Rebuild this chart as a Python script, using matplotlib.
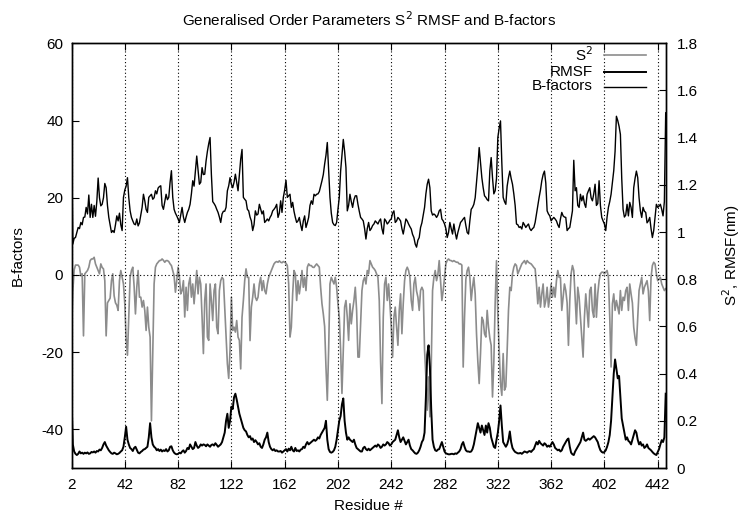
import numpy as np
import matplotlib
matplotlib.use("Agg")
import matplotlib.pyplot as plt
from matplotlib.lines import Line2D

plt.rcParams['font.family'] = ['Liberation Sans', 'DejaVu Sans']
plt.rcParams['axes.unicode_minus'] = False

# ---------------- data (residue 2 .. 448) ----------------
bfactors = [
    40, 8, 9.5, 9.7, 11, 12.3, 12, 13.6, 13, 14.9,
    15, 17.5, 15.8, 20.7, 14.9, 18.3, 14.9, 18.0, 15.2, 19,
    25.1, 20, 17.9, 18.3, 20, 23.7, 22.6, 18, 14.9, 13,
    11.0, 11.5, 11.0, 13, 15.3, 14, 16, 13, 11.5, 20.1,
    22, 23, 25.2, 20, 16.6, 14.9, 14, 13.2, 13, 14.5,
    12.7, 13.5, 15.5, 17.5, 20.9, 19.2, 17, 16.2, 20.1, 20.5,
    20.9, 19.6, 20, 21.8, 21, 22.5, 22.9, 23.1, 18, 17.0,
    19, 20.9, 19.5, 20.1, 24, 27, 20.1, 17, 16, 15.3,
    14.5, 13.6, 15.5, 17.5, 15, 13.6, 15, 16.2, 17, 18.3,
    21, 24.4, 23, 26.9, 30.8, 27, 23.5, 24, 27.8, 26,
    26.1, 29.5, 32, 34, 35.6, 26, 19, 18.5, 17.9, 17,
    16.2, 15, 13.6, 15.8, 16.5, 16.5, 17.5, 21.8, 23.1, 25.2,
    23.5, 22.6, 24, 26.1, 24, 21.8, 26, 30, 32.5, 20.1,
    19.6, 19.2, 17, 16.6, 15, 14.0, 11.5, 13, 16.6, 15.5,
    15.8, 18.3, 17, 15.8, 16.6, 13.6, 14, 14.5, 14.0, 14.9,
    15.5, 16.6, 17, 17.5, 18.3, 14.9, 16, 19.2, 16.2, 20.1,
    22, 24.5, 20.1, 20.5, 20.9, 17.5, 18.8, 16.5, 14.9, 13.6,
    14, 14.9, 13, 11.5, 14, 15.3, 12.3, 13.5, 14.9, 18,
    19.2, 18.3, 20.9, 20.5, 20.9, 21, 21.6, 23, 24.4, 26,
    28.7, 31, 34.3, 27, 20.1, 16, 13.6, 13, 12.8, 13.6,
    17, 20.1, 26.9, 31, 35.1, 32, 27.8, 16.6, 18, 20.9,
    19, 17.5, 19.5, 20.5, 20.5, 18.3, 16.5, 14.9, 14.5, 14,
    12, 9.3, 12, 13.6, 11.5, 12, 12.8, 13.2, 14, 13.6,
    13.2, 14, 14.5, 12, 10.6, 14.5, 14, 13.2, 13.6, 14.2,
    14.5, 16, 16.6, 13.6, 14, 14.9, 14.5, 14, 12, 10.6,
    12.5, 14.5, 14, 13.2, 12.5, 11.9, 10.5, 9.7, 8, 7.2,
    9, 9.7, 12.3, 13.5, 15.5, 17.5, 21, 23.5, 24.8, 22.6,
    16.6, 15.5, 15.8, 15.5, 14.9, 15.5, 16.6, 17.0, 14.5, 14.0,
    13.2, 12, 9.7, 11, 13.6, 12, 10.6, 13.2, 11, 9.3,
    11, 12.3, 13.6, 14, 14.5, 14.9, 12.8, 11, 10.6, 14,
    17.0, 17.5, 18.3, 20, 23.9, 28, 33, 29, 25.2, 22.6,
    20.5, 20.1, 19.5, 19.2, 27, 30.4, 25.2, 21, 21.8, 25,
    35.6, 38, 39.9, 29, 20.1, 19, 18.3, 23, 25.2, 26.9,
    25, 23.5, 21, 18, 13.2, 13, 12.3, 12.5, 11.9, 13.6,
    13, 12.3, 12.8, 13.2, 12, 11.5, 12, 12.3, 13.6, 15.8,
    18, 20.1, 22, 24.4, 26, 26.9, 23.8, 16.6, 15.8, 15.3,
    14.0, 14.5, 14.9, 14.5, 14.0, 13, 12.3, 14.5, 16.2, 15.3,
    15, 14.9, 11.5, 12, 12.3, 14.5, 16.6, 29.7, 21.8, 22.6,
    18, 17.5, 20.9, 19.2, 20.5, 18.5, 17.5, 20.9, 21.8, 22.6,
    20, 19.2, 21, 23.5, 18, 18.5, 24.4, 18, 14.9, 14,
    13.2, 11.5, 15, 17.5, 19, 20.9, 24, 27, 32, 41.1,
    40, 38.5, 36.4, 25, 17, 15, 15.5, 18.3, 15.3, 18.8,
    17.5, 14.9, 22.6, 25, 26.9, 25.2, 20, 16.6, 14.9, 17.5,
    16.5, 16.2, 13.5, 14, 14.9, 12, 9.7, 11.5, 14.9, 18.3,
    17.5, 17.8, 18.3, 17, 15.3, 19, 42,
]

rmsf = [
    0.3, 0.1, 0.07, 0.06, 0.055, 0.06, 0.07, 0.062, 0.065, 0.06,
    0.065, 0.062, 0.066, 0.06, 0.062, 0.068, 0.066, 0.07, 0.065, 0.072,
    0.07, 0.078, 0.075, 0.085, 0.1, 0.11, 0.095, 0.085, 0.075, 0.068,
    0.062, 0.06, 0.065, 0.062, 0.058, 0.06, 0.064, 0.07, 0.075, 0.09,
    0.13, 0.175, 0.12, 0.1, 0.085, 0.08, 0.072, 0.085, 0.09, 0.078,
    0.065, 0.062, 0.068, 0.072, 0.078, 0.08, 0.085, 0.09, 0.13, 0.19,
    0.13, 0.1, 0.09, 0.085, 0.075, 0.08, 0.072, 0.078, 0.07, 0.075,
    0.072, 0.08, 0.07, 0.075, 0.09, 0.092, 0.075, 0.065, 0.06, 0.058,
    0.06, 0.065, 0.062, 0.07, 0.075, 0.065, 0.072, 0.085, 0.08, 0.1,
    0.09, 0.08, 0.085, 0.11, 0.095, 0.085, 0.09, 0.1, 0.095, 0.1,
    0.098, 0.092, 0.1, 0.095, 0.09, 0.098, 0.1, 0.095, 0.105, 0.098,
    0.09, 0.095, 0.1, 0.11, 0.13, 0.15, 0.2, 0.23, 0.17, 0.2,
    0.26, 0.25, 0.3, 0.315, 0.29, 0.26, 0.23, 0.21, 0.19, 0.17,
    0.16, 0.155, 0.14, 0.13, 0.135, 0.12, 0.125, 0.11, 0.118, 0.11,
    0.1, 0.105, 0.09, 0.085, 0.1, 0.12, 0.13, 0.15, 0.11, 0.09,
    0.08, 0.075, 0.08, 0.072, 0.075, 0.07, 0.07, 0.072, 0.065, 0.07,
    0.075, 0.08, 0.07, 0.082, 0.075, 0.09, 0.075, 0.07, 0.085, 0.072,
    0.075, 0.07, 0.078, 0.08, 0.09, 0.085, 0.1, 0.11, 0.1, 0.105,
    0.11, 0.115, 0.12, 0.115, 0.12, 0.13, 0.125, 0.14, 0.15, 0.16,
    0.17, 0.2, 0.12, 0.08, 0.068, 0.065, 0.068, 0.075, 0.09, 0.12,
    0.16, 0.2, 0.22, 0.27, 0.295, 0.2, 0.15, 0.12, 0.13, 0.12,
    0.115, 0.11, 0.12, 0.1, 0.085, 0.08, 0.075, 0.07, 0.07, 0.085,
    0.09, 0.08, 0.075, 0.082, 0.075, 0.08, 0.085, 0.09, 0.095, 0.09,
    0.1, 0.095, 0.085, 0.09, 0.1, 0.095, 0.1, 0.11, 0.105, 0.095,
    0.1, 0.11, 0.115, 0.12, 0.14, 0.16, 0.13, 0.11, 0.12, 0.13,
    0.115, 0.1, 0.11, 0.12, 0.095, 0.08, 0.075, 0.068, 0.062, 0.06,
    0.065, 0.075, 0.09, 0.11, 0.12, 0.15, 0.3, 0.48, 0.52, 0.43,
    0.25, 0.12, 0.09, 0.075, 0.072, 0.078, 0.08, 0.095, 0.11, 0.09,
    0.07, 0.062, 0.06, 0.058, 0.058, 0.06, 0.06, 0.058, 0.062, 0.06,
    0.065, 0.07, 0.08, 0.1, 0.11, 0.09, 0.075, 0.07, 0.07, 0.068,
    0.07, 0.08, 0.1, 0.13, 0.16, 0.19, 0.17, 0.15, 0.18, 0.16,
    0.14, 0.18, 0.15, 0.19, 0.17, 0.13, 0.11, 0.09, 0.085, 0.12,
    0.15, 0.2, 0.265, 0.18, 0.11, 0.1, 0.09, 0.1, 0.12, 0.155,
    0.11, 0.085, 0.075, 0.068, 0.065, 0.062, 0.062, 0.064, 0.06, 0.065,
    0.07, 0.068, 0.065, 0.07, 0.072, 0.068, 0.075, 0.08, 0.095, 0.11,
    0.1, 0.115, 0.105, 0.1, 0.095, 0.105, 0.1, 0.09, 0.095, 0.09,
    0.1, 0.11, 0.1, 0.085, 0.08, 0.075, 0.078, 0.07, 0.075, 0.09,
    0.1, 0.11, 0.12, 0.125, 0.09, 0.065, 0.058, 0.055, 0.07, 0.08,
    0.09, 0.1, 0.11, 0.13, 0.15, 0.12, 0.115, 0.12, 0.125, 0.12,
    0.125, 0.13, 0.135, 0.13, 0.12, 0.11, 0.09, 0.075, 0.068, 0.065,
    0.068, 0.075, 0.09, 0.11, 0.14, 0.2, 0.3, 0.4, 0.46, 0.42,
    0.38, 0.39, 0.3, 0.21, 0.18, 0.15, 0.12, 0.13, 0.115, 0.11,
    0.1, 0.12, 0.14, 0.16, 0.15, 0.12, 0.1, 0.11, 0.095, 0.1,
    0.085, 0.09, 0.1, 0.085, 0.08, 0.075, 0.068, 0.062, 0.058, 0.055,
    0.068, 0.08, 0.1, 0.118, 0.11, 0.13, 0.315,
]

s2 = [
    0.57, 0.75, 0.84, 0.86, 0.86, 0.86, 0.851, 0.815, 0.823, 0.56,
    0.823, 0.83, 0.837, 0.851, 0.879, 0.886, 0.886, 0.893, 0.865, 0.851,
    0.837, 0.823, 0.865, 0.85, 0.844, 0.794, 0.56, 0.7, 0.71, 0.72,
    0.794, 0.823, 0.73, 0.70, 0.69, 0.668, 0.794, 0.837, 0.808, 0.78,
    0.696, 0.55, 0.478, 0.64, 0.808, 0.837, 0.851, 0.77, 0.653, 0.766,
    0.837, 0.724, 0.724, 0.682, 0.71, 0.668, 0.583, 0.682, 0.597, 0.555,
    0.2, 0.5, 0.78, 0.851, 0.865, 0.872, 0.879, 0.88, 0.886, 0.88,
    0.872, 0.879, 0.879, 0.875, 0.865, 0.858, 0.837, 0.815, 0.745, 0.794,
    0.851, 0.808, 0.738, 0.752, 0.794, 0.64, 0.766, 0.668, 0.78, 0.808,
    0.724, 0.78, 0.696, 0.766, 0.837, 0.738, 0.808, 0.78, 0.64, 0.485,
    0.71, 0.78, 0.555, 0.541, 0.78, 0.71, 0.625, 0.752, 0.78, 0.597,
    0.569, 0.752, 0.794, 0.808, 0.8, 0.682, 0.569, 0.442, 0.38, 0.5,
    0.724, 0.583, 0.597, 0.576, 0.625, 0.555, 0.541, 0.42, 0.639, 0.71,
    0.794, 0.844, 0.808, 0.808, 0.54, 0.682, 0.724, 0.78, 0.724, 0.71,
    0.724, 0.78, 0.808, 0.752, 0.794, 0.752, 0.738, 0.78, 0.808, 0.823,
    0.837, 0.851, 0.865, 0.872, 0.875, 0.872, 0.878, 0.872, 0.87, 0.875,
    0.872, 0.868, 0.858, 0.78, 0.555, 0.597, 0.738, 0.837, 0.823, 0.71,
    0.794, 0.738, 0.78, 0.837, 0.766, 0.808, 0.752, 0.851, 0.865, 0.858,
    0.858, 0.851, 0.85, 0.858, 0.865, 0.858, 0.851, 0.766, 0.696, 0.653,
    0.6, 0.428, 0.287, 0.5, 0.78, 0.808, 0.794, 0.78, 0.808, 0.766,
    0.696, 0.639, 0.499, 0.316, 0.499, 0.682, 0.71, 0.639, 0.541, 0.696,
    0.611, 0.668, 0.71, 0.766, 0.668, 0.47, 0.47, 0.611, 0.752, 0.794,
    0.808, 0.78, 0.837, 0.823, 0.879, 0.865, 0.851, 0.845, 0.837, 0.823,
    0.808, 0.71, 0.45, 0.273, 0.639, 0.78, 0.808, 0.71, 0.78, 0.696,
    0.6, 0.47, 0.639, 0.682, 0.597, 0.52, 0.668, 0.738, 0.569, 0.696,
    0.794, 0.837, 0.851, 0.837, 0.808, 0.71, 0.668, 0.78, 0.808, 0.75,
    0.724, 0.668, 0.752, 0.766, 0.752, 0.499, 0.386, 0.245, 0.386, 0.217,
    0.428, 0.752, 0.808, 0.837, 0.794, 0.82, 0.879, 0.794, 0.71, 0.752,
    0.808, 0.865, 0.88, 0.886, 0.88, 0.879, 0.875, 0.879, 0.875, 0.872,
    0.872, 0.865, 0.865, 0.86, 0.428, 0.639, 0.8, 0.837, 0.851, 0.808,
    0.71, 0.766, 0.808, 0.738, 0.569, 0.45, 0.358, 0.485, 0.639, 0.625,
    0.569, 0.555, 0.668, 0.597, 0.55, 0.52, 0.301, 0.45, 0.7, 0.879,
    0.65, 0.499, 0.358, 0.308, 0.485, 0.33, 0.345, 0.499, 0.668, 0.766,
    0.752, 0.823, 0.851, 0.865, 0.858, 0.823, 0.837, 0.851, 0.865, 0.872,
    0.879, 0.865, 0.879, 0.872, 0.868, 0.865, 0.858, 0.85, 0.844, 0.78,
    0.696, 0.766, 0.682, 0.738, 0.78, 0.682, 0.71, 0.766, 0.682, 0.724,
    0.78, 0.724, 0.766, 0.724, 0.794, 0.837, 0.808, 0.808, 0.668, 0.724,
    0.78, 0.752, 0.70, 0.52, 0.71, 0.823, 0.858, 0.837, 0.724, 0.611,
    0.766, 0.724, 0.639, 0.55, 0.47, 0.639, 0.738, 0.668, 0.597, 0.752,
    0.766, 0.668, 0.639, 0.78, 0.639, 0.738, 0.794, 0.823, 0.83, 0.83,
    0.823, 0.83, 0.837, 0.808, 0.639, 0.428, 0.696, 0.738, 0.668, 0.71,
    0.682, 0.653, 0.752, 0.668, 0.724, 0.71, 0.752, 0.766, 0.668, 0.78,
    0.738, 0.70, 0.597, 0.55, 0.52, 0.639, 0.752, 0.78, 0.808, 0.738,
    0.766, 0.78, 0.794, 0.75, 0.625, 0.808, 0.858, 0.872, 0.865, 0.823,
    0.794, 0.8, 0.808, 0.78, 0.766, 0.752, 0.76,
]

first_residue = 2
xticks = [2, 42, 82, 122, 162, 202, 242, 282, 322, 362, 402, 442]
yticks_left = [-40, -20, 0, 20, 40, 60]
yticks_right = [0, 0.2, 0.4, 0.6, 0.8, 1.0, 1.2, 1.4, 1.6, 1.8]
yticklabels_right = ['0', '0.2', '0.4', '0.6', '0.8', '1', '1.2', '1.4', '1.6', '1.8']

res_b = np.arange(first_residue, first_residue + len(bfactors))
res_r = np.arange(first_residue, first_residue + len(rmsf))
res_s = np.arange(first_residue, first_residue + len(s2))

# ---------------- figure ----------------
W, H = 742, 515
fig = plt.figure(figsize=(W / 100, H / 100), dpi=100)
L, R, T, B = 71.5, 665.7, 43.3, 468.0
ax = fig.add_axes([L / W, 1 - B / H, (R - L) / W, (B - T) / H])
ax2 = ax.twinx()

FS = 11
GRAY = '#8c8c8c'

ax.set_xlim(2, 448)
ax.set_ylim(-50, 60)
ax2.set_ylim(0, 1.8)

# grid and zero axis
dot = (0, (1, 2.2))
for xt in xticks:
    ax.axvline(xt, color='black', lw=0.8, linestyle=dot, zorder=1)
ax.axhline(0, color='black', lw=0.8, linestyle=dot, zorder=1)

ax2.plot(res_s, s2, color=GRAY, lw=1.2, zorder=2)
ax2.plot(res_r, rmsf, color='black', lw=1.4, zorder=3)
ax.plot(res_b, bfactors, color='black', lw=1.0, zorder=3)
ax.set_zorder(ax2.get_zorder() + 1)
ax.patch.set_visible(False)

ax.set_xticks(xticks)
ax.set_yticks(yticks_left)
ax2.set_yticks(yticks_right)
ax2.set_yticklabels(yticklabels_right)

ax.tick_params(axis='x', direction='in', length=5, width=0.8, pad=7,
               labelsize=FS, top=True)
ax.tick_params(axis='y', direction='in', length=5, width=0.8, pad=6,
               labelsize=FS, right=False)
ax2.tick_params(axis='y', direction='in', length=5, width=0.8, pad=8,
                labelsize=FS)
for a in (ax, ax2):
    for sp in a.spines.values():
        sp.set_linewidth(1.0)

# labels
cx = (L + R) / 2 / W
fig.text(cx, 1 - 20 / H, 'Generalised Order Parameters S$^2$ RMSF and B-factors',
         ha='center', va='center', fontsize=FS)
fig.text(cx, 1 - 506 / H, 'Residue #', ha='center', va='center', fontsize=FS)
fig.text(18 / W, 1 - 255.6 / H, 'B-factors', ha='center', va='center',
         rotation=90, fontsize=FS)
fig.text(731 / W, 1 - 255.6 / H, 'S$^2$, RMSF(nm)', ha='center', va='center',
         rotation=90, fontsize=FS)

# legend (gnuplot style: right-aligned text, sample to the right)
def fx(px):
    return (px - L) / (R - L)

def fy(py):
    return (B - py) / (B - T)

legend_entries = [('S$^2$', GRAY, 1.2, 55.0),
                  ('RMSF', 'black', 1.4, 71.5),
                  ('B-factors', 'black', 1.0, 86.5)]
for label, col, lw, py in legend_entries:
    ax.text(fx(593), fy(py), label, transform=ax.transAxes, ha='right',
            va='center', fontsize=FS)
    ax.add_line(Line2D([fx(604), fx(646)], [fy(py), fy(py)],
                       transform=ax.transAxes, color=col, lw=lw))

fig.savefig('out.png', dpi=100)
